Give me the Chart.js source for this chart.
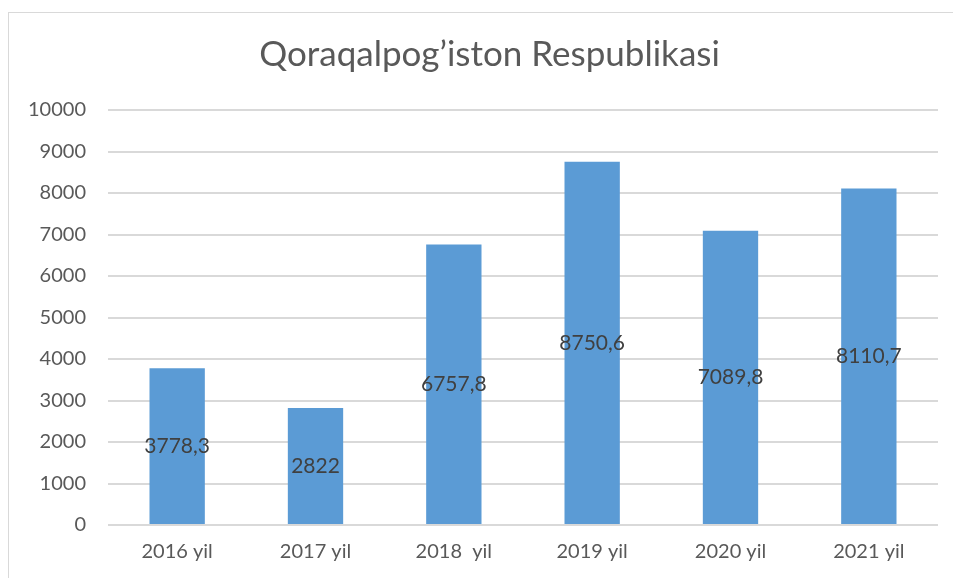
<!DOCTYPE html>
<html>
<head>
<meta charset="utf-8">
<script src="https://cdn.jsdelivr.net/npm/chart.js@4"></script>
<style>
  body { margin: 0; background: #fff; overflow: hidden; }
  #box {
    position: absolute; left: 8px; top: 12px;
    width: 960px; height: 600px;
    border: 1px solid #d9d9d9;
  }
  #wrap { position: absolute; left: 0; top: 0; width: 944px; height: 566px; }
</style>
</head>
<body>
<div id="box"><div id="wrap"><canvas id="myChart"></canvas></div></div>
<script>
// chart data
const categories = ["2016 yil", "2017 yil", "2018  yil", "2019 yil", "2020 yil", "2021 yil"];
const values = [3778.3, 2822, 6757.8, 8750.6, 7089.8, 8110.7];
const valueLabels = ["3778,3", "2822", "6757,8", "8750,6", "7089,8", "8110,7"];
const yTicks = [0, 1000, 2000, 3000, 4000, 5000, 6000, 7000, 8000, 9000, 10000];

// draw the value text in the middle of each bar
const barLabels = {
  id: "barLabels",
  afterDatasetsDraw(chart) {
    const ctx = chart.ctx;
    const meta = chart.getDatasetMeta(0);
    ctx.save();
    ctx.font = "21px Lato";
    ctx.fillStyle = "#404040";
    ctx.textAlign = "center";
    ctx.textBaseline = "middle";
    meta.data.forEach((bar, i) => {
      ctx.fillText(valueLabels[i], bar.x, (bar.y + bar.base) / 2);
    });
    ctx.restore();
  }
};

// the original title sits a bit right of the canvas centre
const titleShift = {
  id: "titleShift",
  afterLayout(chart) {
    if (chart.titleBlock) chart.titleBlock.left += 32;
  }
};

function renderChart() {
  const ctx = document.getElementById("myChart").getContext("2d");
  new Chart(ctx, {
    type: "bar",
    data: {
      labels: categories,
      datasets: [
        {
          data: values,
          backgroundColor: "#5b9bd5",
          barPercentage: 0.4,
          categoryPercentage: 1,
        },
      ],
    },
    options: {
      responsive: true,
      maintainAspectRatio: false,
      animation: false,
      layout: { padding: { top: 21, right: 15, bottom: 0, left: 0 } },
      plugins: {
        legend: { display: false },
        tooltip: { enabled: false },
        title: {
          display: true,
          text: "Qoraqalpog\u2019iston Respublikasi",
          color: "#595959",
          font: { family: "Lato", size: 35, weight: "normal" },
          padding: { top: 0, bottom: 34 },
        },
      },
      scales: {
        x: {
          grid: { display: false, drawTicks: false },
          border: { display: false },
          ticks: { color: "#595959", font: { family: "Lato", size: 20 }, padding: 15 },
        },
        y: {
          min: 0,
          max: 10000,
          afterBuildTicks: (s) => { s.ticks = yTicks.map((v) => ({ value: v })); },
          afterFit: (s) => { s.width = 99; },
          grid: { color: "#d9d9d9", lineWidth: 2, drawTicks: false },
          border: { display: false },
          ticks: {
            color: "#595959",
            font: { family: "Lato", size: 20 },
            padding: 22,
            callback: (v) => String(v),
          },
        },
      },
    },
    plugins: [barLabels, titleShift],
  });
}

renderChart();
</script>
</body>
</html>
